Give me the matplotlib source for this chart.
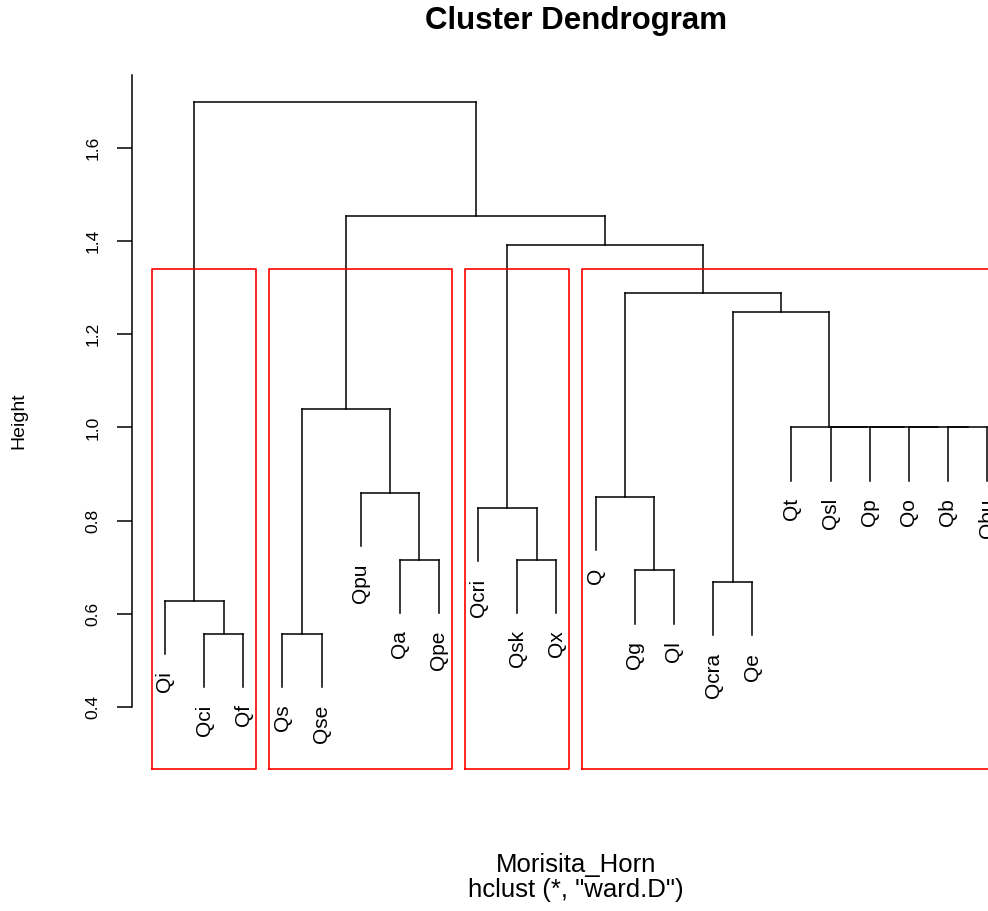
import matplotlib
matplotlib.use('Agg')
import matplotlib.pyplot as plt
import numpy as np

plt.rcParams['font.family'] = ['Liberation Sans', 'DejaVu Sans']

# Leaf order as drawn, left to right
leaves = ['Qi', 'Qci', 'Qf', 'Qs', 'Qse', 'Qpu', 'Qa', 'Qpe', 'Qcri', 'Qsk', 'Qx',
          'Q', 'Qg', 'Ql', 'Qcra', 'Qe', 'Qt', 'Qsl', 'Qp', 'Qo', 'Qb', 'Qbu']

# Merges (ward.D on Morisita-Horn), children are leaf names or earlier merge ids
merge_left = ['Qci', 'Qi', 'Qs', 'Qa', 'Qpu', 'm3', 'Qsk', 'Qcri', 'Qg', 'Q', 'Qcra',
              'Qb', 'Qo', 'Qp', 'Qsl', 'Qt', 'm11', 'm10', 'm8', 'm6', 'm2']
merge_right = ['Qf', 'm1', 'Qse', 'Qpe', 'm4', 'm5', 'Qx', 'm7', 'Ql', 'm9', 'Qe',
               'Qbu', 'm12', 'm13', 'm14', 'm15', 'm16', 'm17', 'm18', 'm19', 'm20']
merge_height = [0.557, 0.628, 0.557, 0.716, 0.859, 1.040, 0.716, 0.827, 0.693, 0.851, 0.668,
                1.0, 1.0, 1.0, 1.0, 1.0, 1.248, 1.289, 1.392, 1.454, 1.699]

# rect.hclust(k = 4)
cluster_sizes = [3, 5, 3, 11]

yticks = [0.4, 0.6, 0.8, 1.0, 1.2, 1.4, 1.6]

fig = plt.figure(figsize=(9.88, 9.11), dpi=100)
ax = fig.add_axes([0.1336, 0.1559, 0.8988, 0.7618])

n = len(leaves)
hang = 0.1 * (max(merge_height) - min(merge_height))
xpos = {name: i + 1 for i, name in enumerate(leaves)}
ypos = {}
lw = 1.1

for k, (a, b, h) in enumerate(zip(merge_left, merge_right, merge_height)):
    mid = 'm%d' % (k + 1)
    for c in (a, b):
        if c in leaves:
            ypos[c] = h - hang
        ax.plot([xpos[c], xpos[c]], [ypos[c], h], color='black', lw=lw, clip_on=False)
    ax.plot([xpos[a], xpos[b]], [h, h], color='black', lw=lw, clip_on=False)
    xpos[mid] = (xpos[a] + xpos[b]) / 2
    ypos[mid] = h

# leaf labels
for name in leaves:
    ax.annotate(name, (xpos[name], ypos[name]), xytext=(0, -12.5), textcoords='offset points',
                rotation=90, ha='center', va='top', fontsize=15)

ax.set_xlim(0.16, n + 0.84)
ax.set_ylim(0.2669, 1.7567)

# red boxes for the 4 clusters
sorted_h = sorted(merge_height, reverse=True)
cut = (sorted_h[2] + sorted_h[3]) / 2
ybot = ax.get_ylim()[0]
start = 0
for size in cluster_sizes:
    x0 = start + 0.66
    x1 = start + size + 0.33
    ax.plot([x0, x1, x1, x0, x0], [ybot, ybot, cut, cut, ybot], color='#ff0000', lw=1.2,
            clip_on=False)
    start += size

for s in ['top', 'right', 'bottom']:
    ax.spines[s].set_visible(False)
ax.spines['left'].set_bounds(0.4, 1.7567)
ax.spines['left'].set_linewidth(lw)
ax.set_xticks([])
ax.set_yticks(yticks)
ax.set_yticklabels(['%.1f' % v for v in yticks], rotation=90, va='center', fontsize=12.5)
ax.tick_params(axis='y', length=10.8, width=lw, pad=12)
ax.patch.set_visible(False)

fig.text(576 / 988, 1 - 21 / 911, 'Cluster Dendrogram', ha='center', va='center',
         fontsize=22.5, fontweight='bold')
fig.text(19 / 988, 1 - 421 / 911, 'Height', rotation=90, ha='center', va='center', fontsize=14)
fig.text(576 / 988, 1 - 865 / 911, 'Morisita_Horn', ha='center', va='center', fontsize=18.5)
fig.text(576 / 988, 1 - 890 / 911, 'hclust (*, "ward.D")', ha='center', va='center', fontsize=18.5)

fig.savefig('out.png', dpi=100)
